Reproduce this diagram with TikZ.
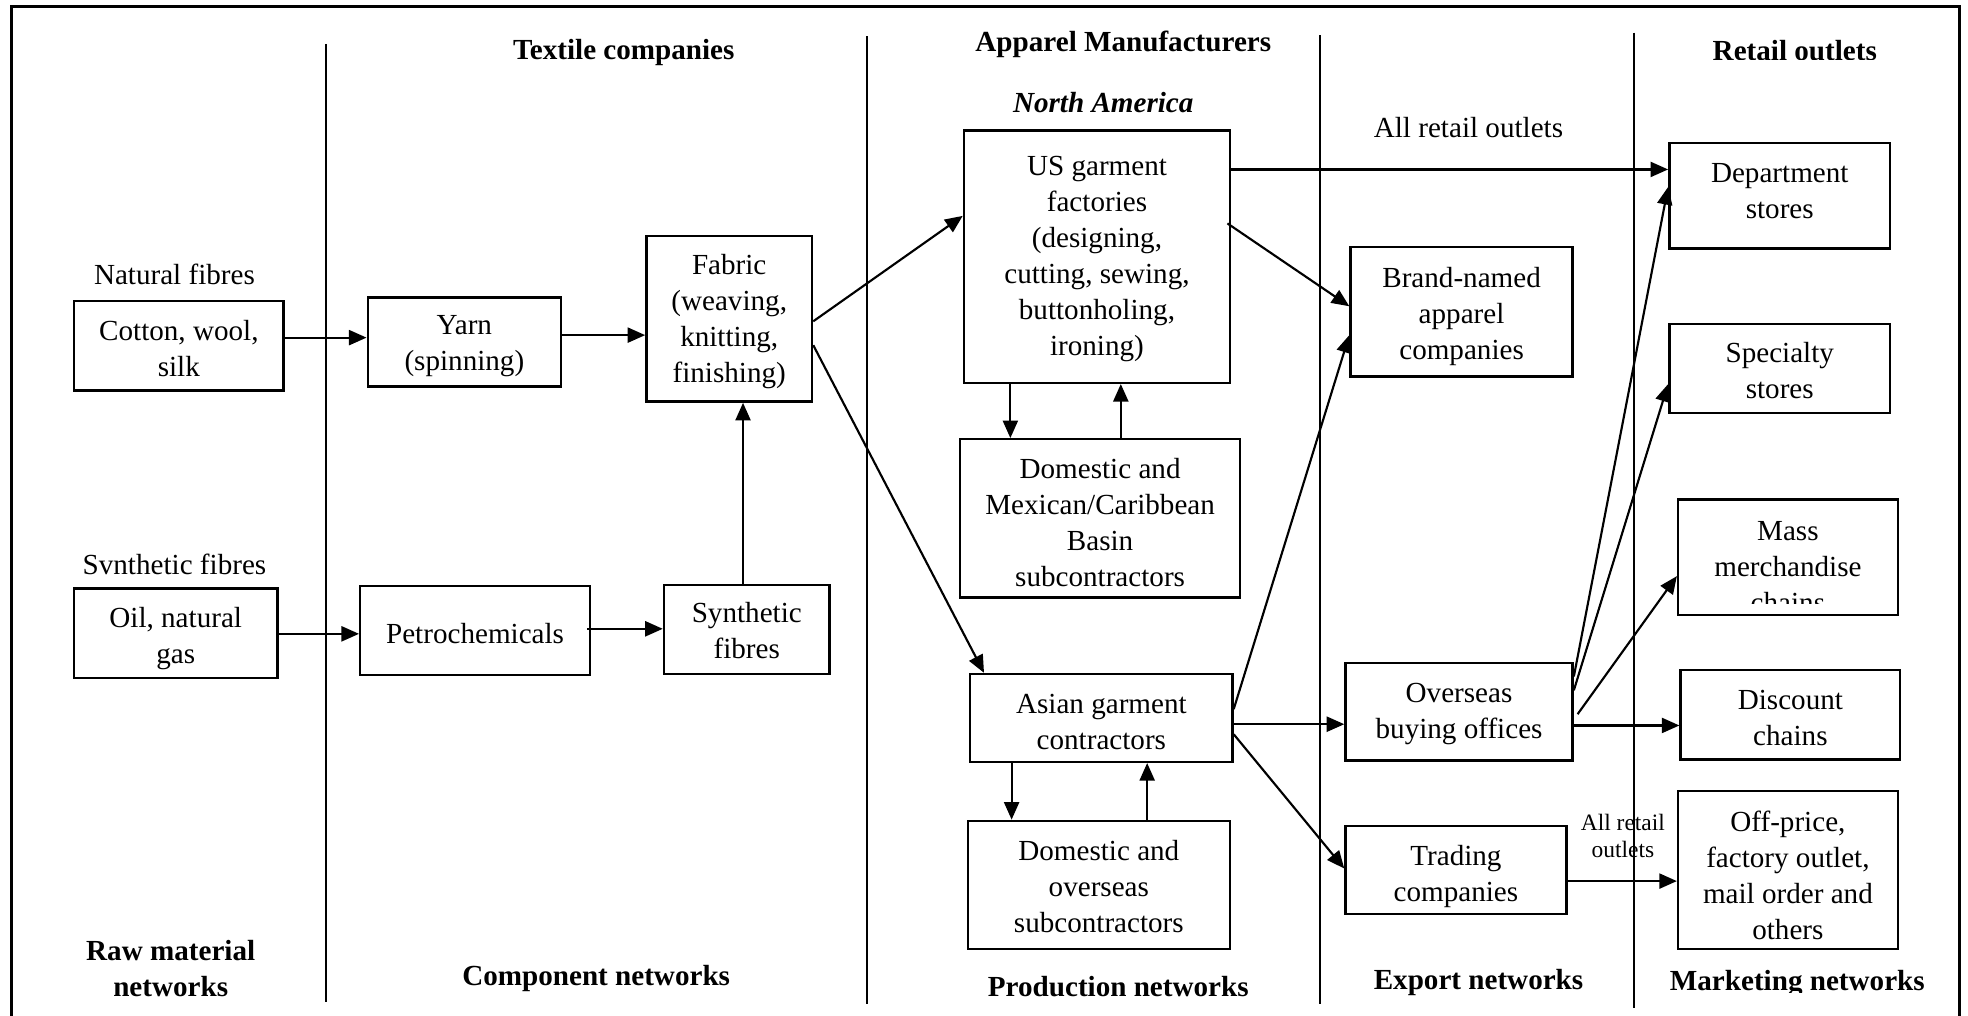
\documentclass[tikz,border=0pt]{standalone}
\usepackage{fontspec}
\setmainfont{Liberation Serif}
\usetikzlibrary{arrows.meta}
\newcommand\dgmtext{\fontsize{23.2pt}{28.7pt}\selectfont}
\newcommand\dgmtight{\fontsize{23.2pt}{27pt}\selectfont}
\newcommand\dgmsmall{\fontsize{18.7pt}{22pt}\selectfont}
% box with its caption: name, x, y, width, height, caption shift, caption
\newcommand\dgmbox[7]{%
  \node[box, minimum width=#4pt, minimum height=#5pt] (#1) at (#2,#3) {};
  \node[plain] (#1-text) at ([yshift=#6pt]#1.center) {#7};}
\begin{document}
\begin{tikzpicture}[x=1pt,y=1pt,
  box/.style={draw, line width=1.9pt, rectangle, inner sep=0pt},
  plain/.style={inner sep=0pt, align=center, font=\dgmtext},
  head/.style={inner sep=0pt, align=center, font=\dgmtext\bfseries},
  arr/.style={line width=1.7pt, -{Triangle[length=14pt,width=12pt]}},
  divider/.style={line width=1.7pt}
]
\useasboundingbox (0,0) rectangle (1568,-809);

% outer frame, open at the bottom
\draw[line width=2.4pt] (9.3,-812) -- (9.3,-5.5) -- (1561.5,-5.5) -- (1561.5,-812);

% column dividers
\draw[divider] (260,-35) -- (260,-798);
\draw[divider] (691,-29) -- (691,-800);
\draw[divider] (1052,-28) -- (1052,-800);
\draw[divider] (1302,-26) -- (1302,-803);

% column headings
\node[head] (hTextile) at (497,-42) {Textile companies};
\node[head] (hApparel) at (895,-35.5) {Apparel Manufacturers};
\node[head, font=\dgmtext\bfseries\itshape] (hNA) at (879,-82) {North America};
\node[plain] (hAll) at (1170,-102) {All retail outlets};
\begin{scope}
  \clip (1340,0) rectangle (1530,-47.3);
  \node[head, anchor=base] (hRetail) at (1430,-48.5) {Retail outlets};
\end{scope}

% network labels along the bottom
\node[head] (nRaw) at (136,-772) {Raw material\\networks};
\node[head] (nComp) at (475,-779.5) {Component networks};
\node[head] (nProd) at (891,-786) {Production networks};
\node[head] (nExport) at (1178,-783) {Export networks};
\begin{scope}
  \clip (1315,-760) rectangle (1550,-791);
  \node[head, anchor=base] (nMarket) at (1432,-789) {Marketing networks};
\end{scope}

% raw materials
\node[plain] (lNatural) at (139,-219) {Natural fibres};
\node[plain] (lSynth) at (139,-450) {Svnthetic fibres};
\dgmbox{cotton}{142.5}{-275.5}{167}{71}{-2}{Cotton, wool,\\silk}
\dgmbox{oil}{140}{-504.5}{162}{71}{-4}{Oil, natural\\gas}

% components
\dgmbox{yarn}{370}{-272.5}{154}{71}{-3.5}{Yarn\\(spinning)}
\dgmbox{fabric}{581}{-254}{132}{132}{-2}{\dgmtight Fabric\\(weaving,\\knitting,\\finishing)}
\dgmbox{petro}{378.5}{-502.5}{183}{71}{-2}{Petrochemicals}
\dgmbox{synth}{595}{-501.5}{132}{71}{-0.5}{Synthetic\\fibres}

% production
\dgmbox{us}{874}{-204.5}{212}{201}{-2}{\dgmtight US garment\\factories\\(designing,\\cutting, sewing,\\buttonholing,\\ironing)}
\dgmbox{dommex}{876.5}{-413}{223}{126}{-3}{Domestic and\\Mexican/Caribbean\\Basin\\subcontractors}
\dgmbox{asian}{877.5}{-572}{209}{70}{-3.5}{Asian garment\\contractors}
\dgmbox{domover}{875.5}{-705}{209}{102}{-1.5}{Domestic and\\overseas\\subcontractors}

% export
\dgmbox{brand}{1164.5}{-248.5}{177}{103}{-3.5}{Brand-named\\apparel\\companies}
\dgmbox{overseas}{1162.5}{-567}{181}{78}{-1.5}{Overseas\\buying offices}
\dgmbox{trading}{1160}{-693}{176}{70}{-5}{Trading\\companies}
\node[inner sep=0pt, align=center, font=\dgmsmall] (lAllSmall) at (1293,-666) {All retail\\outlets};

% marketing
\dgmbox{dept}{1418}{-156}{176}{84}{4}{Department\\stores}
\dgmbox{spec}{1418}{-293.5}{176}{71}{-2}{Specialty\\stores}
\node[box, minimum width=175pt, minimum height=92pt] (mass) at (1424.5,-444) {};
\begin{scope}
  \clip (1338,-399) rectangle (1511,-481);
  \node[plain] (mass-text) at (1424.5,-451.5) {Mass\\merchandise\\chains};
\end{scope}
\dgmbox{disc}{1426.5}{-569.5}{175}{71}{-2.5}{Discount\\chains}
\dgmbox{offp}{1424.5}{-693}{175}{126}{-4.5}{Off-price,\\factory outlet,\\mail order and\\others}

% flows
\draw[arr] ([yshift=6.5pt]cotton.east) -- ([yshift=3.5pt]yarn.west);
\draw[arr] ([yshift=5.5pt]yarn.east) -- ([yshift=-13pt]fabric.west);
\draw[arr] ([yshift=-0.5pt]oil.east) -- ([yshift=-2.5pt]petro.west);
\draw[arr] ([yshift=1.5pt,xshift=-3pt]petro.east) -- ([yshift=0.5pt]synth.west);
\draw[arr] ([xshift=-3pt]synth.north) -- ([xshift=11pt]fabric.south);
\draw[arr] ([yshift=-2pt]fabric.east) -- ([yshift=32.5pt]us.west);
\draw[arr] ([yshift=-21pt]fabric.east) -- ([xshift=-93.5pt]asian.north);

\draw[arr] ([yshift=69.5pt]us.east) -- ([yshift=21pt]dept.west);
\draw[arr] ([yshift=26.5pt,xshift=-3pt]us.east) -- ([yshift=4.5pt]brand.west);
\draw[arr] ([xshift=-69pt]us.south) -- ([xshift=-71.5pt]dommex.north);
\draw[arr] ([xshift=16.5pt]dommex.north) -- ([xshift=19pt]us.south);

\draw[arr] ([xshift=-71.5pt]asian.south) -- ([xshift=-69.5pt]domover.north);
\draw[arr] ([xshift=38.5pt]domover.north) -- ([xshift=36.5pt]asian.south);
\draw[arr] ([yshift=7pt]asian.east) -- ([yshift=-18.5pt]brand.west);
\draw[arr] ([yshift=-5pt]asian.east) -- ([yshift=-10pt]overseas.west);
\draw[arr] ([yshift=-13pt]asian.east) -- ([yshift=1pt]trading.west);

\draw[arr] ([yshift=28pt]overseas.east) -- ([yshift=7pt]dept.west);
\draw[arr] ([yshift=17pt]overseas.east) -- ([yshift=-12.5pt]spec.west);
\draw[arr] ([yshift=-2pt,xshift=3pt]overseas.east) -- ([yshift=-15pt]mass.west);
\draw[arr] ([yshift=-11pt]overseas.east) -- ([yshift=-8.5pt]disc.west);
\draw[arr] ([yshift=-9pt]trading.east) -- ([yshift=-9pt]offp.west);
\end{tikzpicture}
\end{document}
